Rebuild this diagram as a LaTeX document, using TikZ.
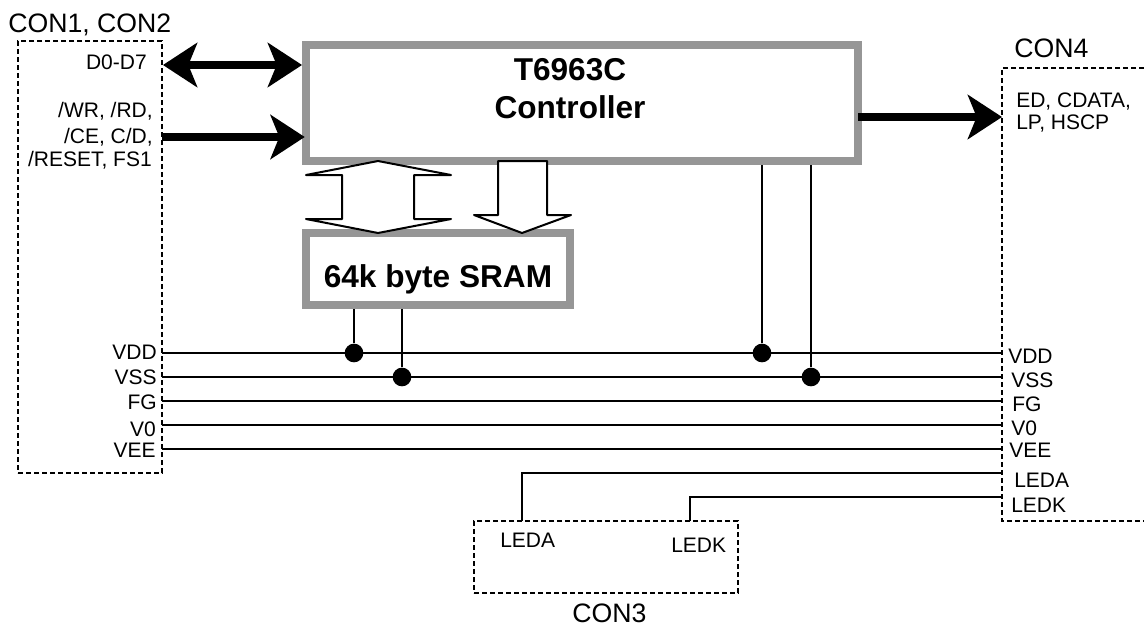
\documentclass[tikz,border=0pt]{standalone}
\usepackage{fontspec}
\usepackage{xcolor}
\usepackage{tikz}
\usetikzlibrary{arrows.meta}
\setmainfont{Liberation Sans}
\definecolor{chipgray}{HTML}{969696}

\tikzset{
  chip/.style={draw=chipgray, line width=6pt, fill=white, inner sep=0pt},
  conbox/.style={draw, line width=1.1pt, dash pattern=on 3.75pt off 2.25pt},
  lbl/.style={inner sep=0pt, font=\fontsize{15.75}{17.25}\selectfont},
  contitle/.style={inner sep=0pt, font=\fontsize{20}{24}\selectfont},
  chiptext/.style={inner sep=0pt, font=\fontsize{23.7}{28}\selectfont\bfseries},
  junction/.style={circle, fill=black, inner sep=0pt, minimum size=14pt},
  wire/.style={line width=1.5pt},
  bigtip/.tip={Stealth[length=26pt, width=34pt, inset=7pt, line width=0pt]},
  bigarrow/.style={line width=6pt},
  hollow/.style={draw, line width=1.5pt, fill=white, line join=round}
}

\begin{document}
\begin{tikzpicture}[x=0.75pt, y=-0.75pt]
  \useasboundingbox (0,0) rectangle (1144,625);

  % chips
  \node[chip, minimum width=414pt, minimum height=87pt] (ctrl) at (582,103) {};
  \node[chiptext, anchor=base] (ctrlname) at (570,80) {T6963C};
  \node[chiptext, anchor=base] (ctrlkind) at (570,118) {Controller};
  \node[chip, minimum width=198pt, minimum height=54pt] (sram) at (438,269) {};
  \node[chiptext, anchor=base] (sramname) at (438,287) {64k byte SRAM};

  % connectors
  \node[conbox, minimum width=108pt, minimum height=324pt] (conl) at (90,257) {};
  \node[conbox, minimum width=198pt, minimum height=54pt] (conm) at (606,557) {};
  \draw[conbox] (1144,68) -| (1002,521) -- (1144,521);
  \node[contitle, anchor=base west] (conltitle) at (8,32) {CON1, CON2};
  \node[contitle, anchor=base west] (conmtitle) at (572,622) {CON3};
  \node[contitle, anchor=base west] (conrtitle) at (1014,57) {CON4};

  % signal names on the left
  \node[lbl, anchor=base east] (d0l) at (147,69) {D0-D7};
  \node[lbl, anchor=base east] (wrl) at (153,117) {/WR, /RD,};
  \node[lbl, anchor=base east] (cel) at (153,143) {/CE, C/D,};
  \node[lbl, anchor=base east] (rstl) at (152,166) {/RESET, FS1};
  \node[lbl, anchor=base east] (vddl) at (157,359) {VDD};
  \node[lbl, anchor=base east] (vssl) at (157,384) {VSS};
  \node[lbl, anchor=base east] (fgl) at (157,409) {FG};
  \node[lbl, anchor=base east] (vol) at (156,436) {V0};
  \node[lbl, anchor=base east] (veel) at (156,457) {VEE};

  % signal names on the right
  \node[lbl, anchor=base west] (edr) at (1016,107) {ED, CDATA,};
  \node[lbl, anchor=base west] (lpr) at (1016,129) {LP, HSCP};
  \node[lbl, anchor=base west] (vddr) at (1008,363) {VDD};
  \node[lbl, anchor=base west] (vssr) at (1011,387) {VSS};
  \node[lbl, anchor=base west] (fgr) at (1012,411) {FG};
  \node[lbl, anchor=base west] (vor) at (1011,435) {V0};
  \node[lbl, anchor=base west] (veer) at (1009,457) {VEE};
  \node[lbl, anchor=base west] (ledar) at (1014,487) {LEDA};
  \node[lbl, anchor=base west] (ledkr) at (1011,512) {LEDK};
  \node[lbl, anchor=base west] (ledam) at (500,547) {LEDA};
  \node[lbl, anchor=base west] (ledkm) at (671,552) {LEDK};

  % ports
  \coordinate (d0port) at (163,65);
  \coordinate (wrport) at (162,137);
  \coordinate (edport) at (858,117);
  \coordinate (edend) at (1002,117);
  \coordinate (vdd1) at (162,353);
  \coordinate (vdd2) at (1002,353);
  \coordinate (vss1) at (162,377);
  \coordinate (vss2) at (1002,377);
  \coordinate (fg1) at (162,401);
  \coordinate (fg2) at (1002,401);
  \coordinate (vo1) at (162,425);
  \coordinate (vo2) at (1002,425);
  \coordinate (vee1) at (162,449);
  \coordinate (vee2) at (1002,449);
  \coordinate (leda2) at (1002,473);
  \coordinate (ledk2) at (1002,497);
  \coordinate (leda1) at (522,521);
  \coordinate (ledk1) at (690,521);

  % thick arrows
  \draw[bigarrow, bigtip-bigtip] (d0port) -- (d0port -| ctrl.west);
  \draw[bigarrow, -bigtip, shorten >=-2pt] (wrport) -- (wrport -| ctrl.west);
  \draw[bigarrow, -bigtip] (edport) -- (edend);

  % memory bus
  \draw[hollow] (378,161) -- (451,175) -- (414,175) -- (414,219) -- (451,219) -- (378,233)
    -- (306,219) -- (342,219) -- (342,175) -- (306,175) -- cycle;
  \draw[hollow] (498,161) -- (547,161) -- (547,215) -- (571,215) -- (522,233)
    -- (474,215) -- (498,215) -- cycle;

  % rails
  \draw[wire] (vdd1) -- (vdd2);
  \draw[wire] (vss1) -- (vss2);
  \draw[wire] (fg1) -- (fg2);
  \draw[wire] (vo1) -- (vo2);
  \draw[wire] (vee1) -- (vee2);
  \draw[wire] (leda2) -| (leda1);
  \draw[wire] (ledk2) -| (ledk1);

  % junctions
  \node[junction] (dot1) at (354,353) {};
  \node[junction] (dot2) at (402,377) {};
  \node[junction] (dot3) at (762,353) {};
  \node[junction] (dot4) at (811,377) {};
  \draw[wire] (dot1) -- (dot1 |- sram.south);
  \draw[wire] (dot2) -- (dot2 |- sram.south);
  \draw[wire] (dot3) -- (dot3 |- ctrl.south);
  \draw[wire] (dot4) -- (dot4 |- ctrl.south);
\end{tikzpicture}
\end{document}
